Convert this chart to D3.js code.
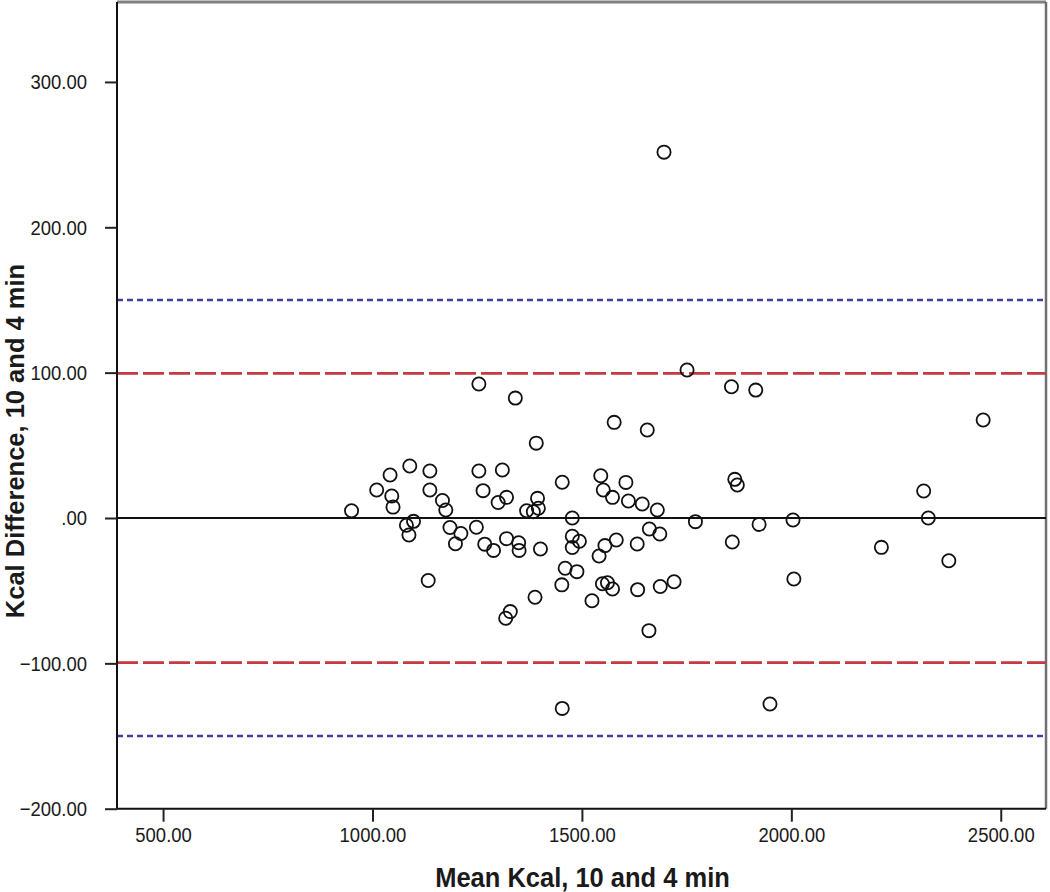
<!DOCTYPE html>
<html>
<head>
<meta charset="utf-8">
<script src="https://cdn.jsdelivr.net/npm/d3@7"></script>
<style>
  html, body { margin: 0; padding: 0; background: #fff; }
  svg { display: block; }
</style>
</head>
<body>
<svg id="chart" width="1050" height="892"></svg>
<script>
// Mean Kcal (x) and Kcal difference (y)
const meanKcal = [950,1010,1042,1046,1049,1089,1081,1098,1087,1137,1137,1167,1175,1185,1211,1198,1133,1248,1254,1264,
  1268,1289,1310,1300,1320,1320,1349,1350,1401,1391,1341,1254,1453,1368,1384,1396,1394,1477,1477,1494,
  1477,1460,1488,1452,1388,1318,1329,1524,1549,1561,1573,1633,1687,1720,1660,1453,1949,1857,1915,1577,
  1656,1545,1605,1551,1573,1611,1644,1680,1771,1923,2004,1582,1555,1541,1632,1661,1686,1859,2006,1865,
  1871,2458,2316,2327,2215,2376,1751,1696];
const diffKcal = [5.0,19.3,29.6,15.1,7.5,35.8,-5,-2.3,-11.7,32.3,19.3,12,5.5,-6.5,-10.7,-17.7,-43,-6.4,32.3,18.8,
  -18,-22.3,33,10.7,14.2,-14.2,-17,-22.3,-21.3,51.5,82.5,92.2,24.6,5,4.3,6.7,13.5,0,-12.6,-16,
  -20.3,-34.6,-36.9,-46,-54.5,-69,-64.4,-56.9,-45.2,-44.5,-48.8,-49.3,-47.1,-43.9,-77.5,-131,-128,90.3,88,65.8,
  60.5,29.1,24.5,19.3,14.2,11.7,9.6,5.5,-2.5,-4.4,-1.4,-15.1,-19,-26.1,-17.9,-7.6,-11,-16.5,-42,26.6,
  22.7,67.4,18.6,0,-20.2,-29.4,101.8,251.7];

const xTicks = [500, 1000, 1500, 2000, 2500];
const yTicks = [-200, -100, 0, 100, 200, 300];
const meanLine = [0];
const limits95 = [-99.5, 99.5];   // red long dash
const limitsOuter = [-150, 150];  // blue short dash

const xLabel = "Mean Kcal, 10 and 4 min";
const yLabel = "Kcal Difference, 10 and 4 min";

const svg = d3.select("#chart");
const L = 117, R = 1046, T = 2, B = 808.7;
const x = d3.scaleLinear().domain([390, 2608]).range([L, R]);
const y = d3.scaleLinear().domain([-200, 355]).range([B, T]);
const fmt = d3.format(".2f");
const tickFmt = v => v === 0 ? ".00" : fmt(v);

// frame (top & right grey)
svg.append("line").attr("x1", L).attr("x2", R).attr("y1", T).attr("y2", T)
  .attr("stroke", "#808080").attr("stroke-width", 3);
svg.append("line").attr("x1", R).attr("x2", R).attr("y1", T).attr("y2", B)
  .attr("stroke", "#707070").attr("stroke-width", 2.5);

// reference lines
const refG = svg.append("g");
refG.selectAll("line.outer").data(limitsOuter).join("line")
  .attr("x1", L).attr("x2", R).attr("y1", d => y(d)).attr("y2", d => y(d))
  .attr("stroke", "#3f3fa0").attr("stroke-width", 2.4).attr("stroke-dasharray", "6,4");
refG.selectAll("line.lim").data(limits95).join("line")
  .attr("x1", L).attr("x2", R).attr("y1", d => y(d)).attr("y2", d => y(d))
  .attr("stroke", "#c43a3e").attr("stroke-width", 2.7).attr("stroke-dasharray", "21,5");
refG.selectAll("line.mean").data(meanLine).join("line")
  .attr("x1", L).attr("x2", R).attr("y1", d => y(d)).attr("y2", d => y(d))
  .attr("stroke", "#111").attr("stroke-width", 2);

// points
const pts = meanKcal.map((m, i) => ({ m, d: diffKcal[i] }));
svg.append("g").selectAll("circle").data(pts).join("circle")
  .attr("cx", p => x(p.m)).attr("cy", p => y(p.d)).attr("r", 6.6)
  .attr("fill", "none").attr("stroke", "#111").attr("stroke-width", 1.8);

// axes
const fontFam = "'Liberation Sans', Arial, sans-serif";
const xAxis = svg.append("g").attr("transform", `translate(0,${B})`)
  .call(d3.axisBottom(x).tickValues(xTicks).tickFormat(tickFmt).tickSize(13).tickPadding(4));
const yAxis = svg.append("g").attr("transform", `translate(${L},0)`)
  .call(d3.axisLeft(y).tickValues(yTicks).tickFormat(tickFmt).tickSize(12).tickPadding(3));
[xAxis, yAxis].forEach(g => {
  g.select(".domain").attr("stroke", "#111").attr("stroke-width", 2);
  g.selectAll(".tick line").attr("stroke", "#222").attr("stroke-width", 2);
  g.selectAll(".tick text").attr("fill", "#1a1a1a").style("font-family", fontFam).style("font-size", "18.5px");
});
xAxis.select(".domain").attr("d", `M${L},0H${R}`);
yAxis.select(".domain").attr("d", `M0,${T}V${B}`);

xAxis.selectAll(".tick text").attr("y", 0).attr("dy", 0)
  .attr("transform", "translate(0,33) scale(1,1.13)");
yAxis.selectAll(".tick text").attr("dy", 0).attr("y", 0)
  .attr("transform", "translate(-15,7) scale(1,1.13)");

// axis titles
svg.append("text").attr("x", (L + R) / 2 + 1).attr("y", 0)
  .attr("transform", "translate(0,887) scale(1,1.12)")
  .attr("text-anchor", "middle").attr("fill", "#1a1a1a")
  .style("font-family", fontFam).style("font-weight", "bold").style("font-size", "25.5px")
  .text(xLabel);
svg.append("text")
  .attr("transform", "translate(23.5,441) rotate(-90)")
  .attr("text-anchor", "middle").attr("fill", "#1a1a1a")
  .style("font-family", fontFam).style("font-weight", "bold").style("font-size", "25.5px")
  .text(yLabel);
</script>
</body>
</html>
